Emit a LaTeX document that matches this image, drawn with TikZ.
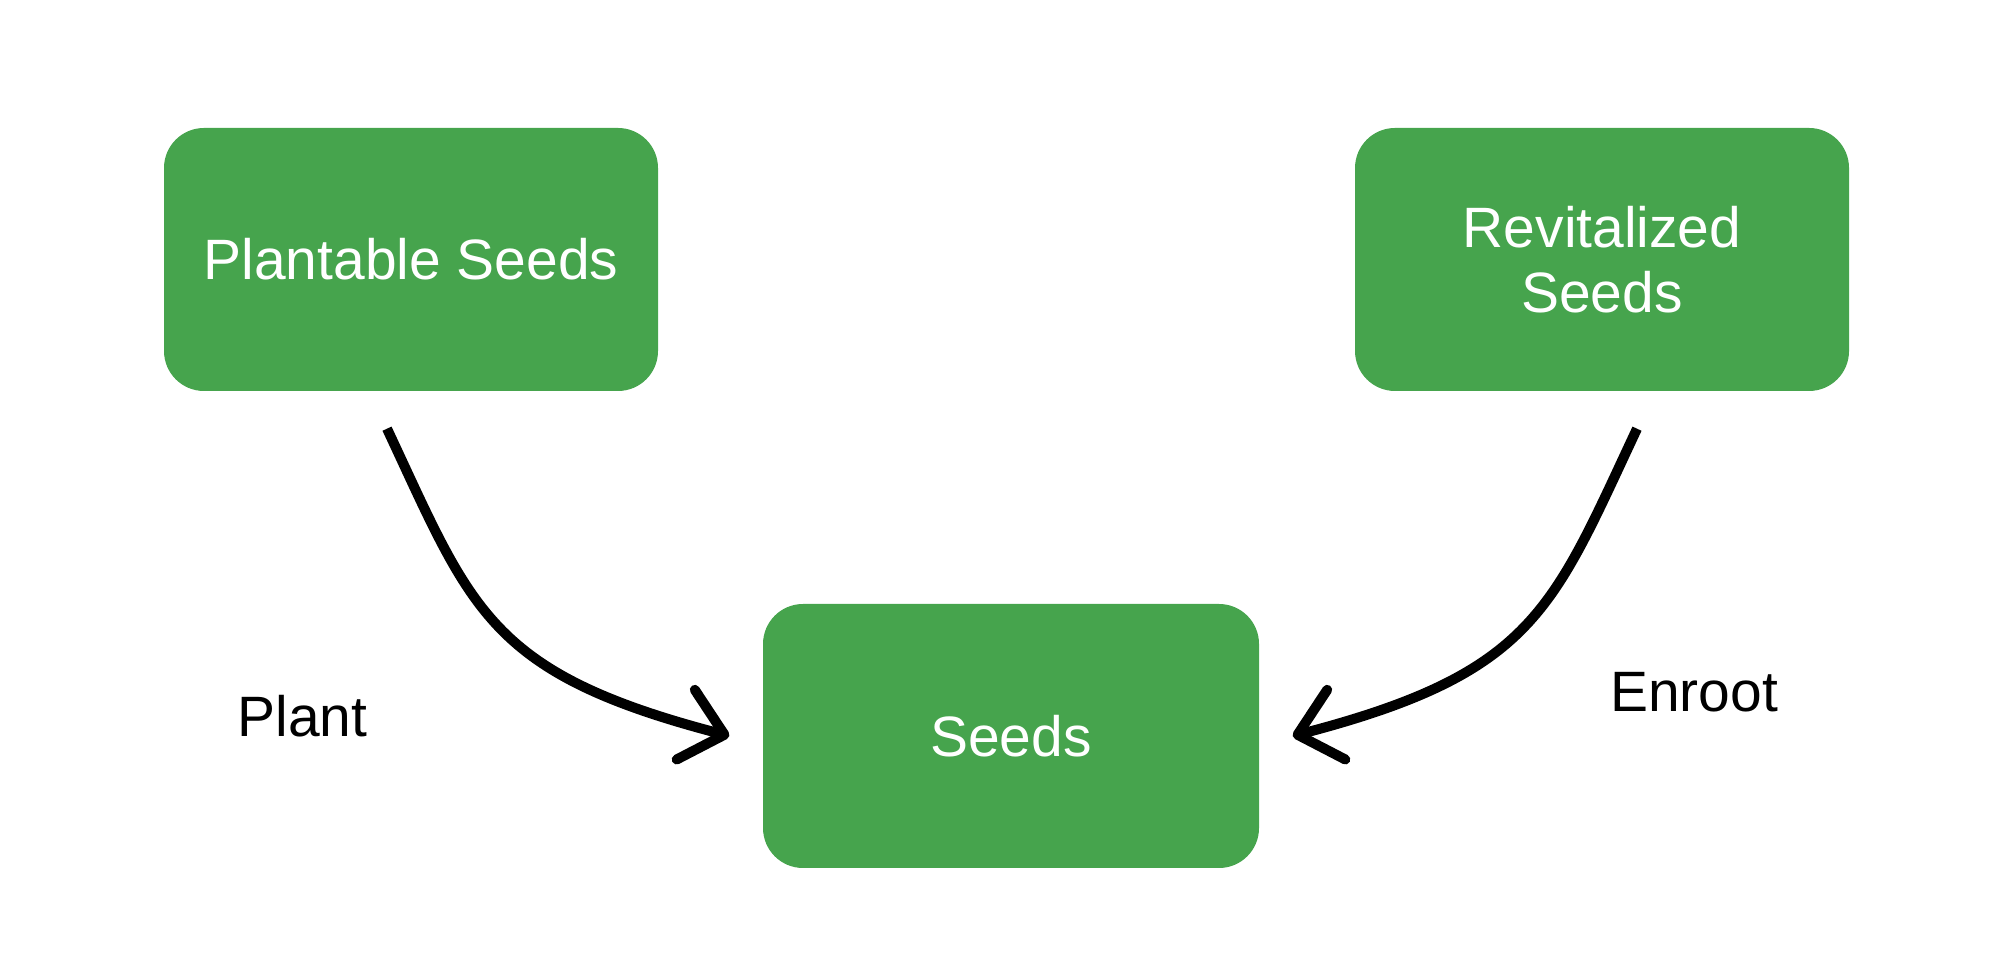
\documentclass[tikz,border=0pt]{standalone}
\usepackage{fontspec}
\setmainfont{Liberation Sans}
\usepackage{pgf,tikz}
\usetikzlibrary{arrows.meta}
\definecolor{qqaaqq}{rgb}{0.275,0.643,0.302}

\begin{document}
\begin{tikzpicture}[line join=round,x=1.0cm,y=1.0cm,
	seedbox/.style={rectangle,rounded corners=0.4cm,fill=qqaaqq,text=white,minimum width=4.94cm,minimum height=2.63cm,align=center,font=\fontsize{16.2}{18.5}\selectfont},
	lbl/.style={text=black,font=\fontsize{16.2}{18.5}\selectfont},
	flow/.style={line width=0.1cm,-{Straight Barb[length=0.4cm,width=0.72cm,round]}}]
	\useasboundingbox (0,0) rectangle (20.04,9.76);
	\node[seedbox] (plantable) at (4.11,7.165) {Plantable Seeds};
	\node[seedbox] (revitalized) at (16.02,7.165) {Revitalized\\Seeds};
	\node[seedbox,minimum width=4.96cm,minimum height=2.64cm] (seeds) at (10.11,2.40) {Seeds};
	\node[lbl] (plant) at (3.025,2.60) {Plant};
	\node[lbl] (enroot) at (16.94,2.84) {Enroot};
	\draw[flow] ([shift={(-0.24,-0.37)}]plantable.south) .. controls +(0.85,-1.81) and +(-2.42,0.63) .. ([xshift=-0.33cm]seeds.west);
	\draw[flow] ([shift={(0.35,-0.37)}]revitalized.south) .. controls +(-0.85,-1.81) and +(2.42,0.63) .. ([xshift=0.33cm]seeds.east);
\end{tikzpicture}
\end{document}
